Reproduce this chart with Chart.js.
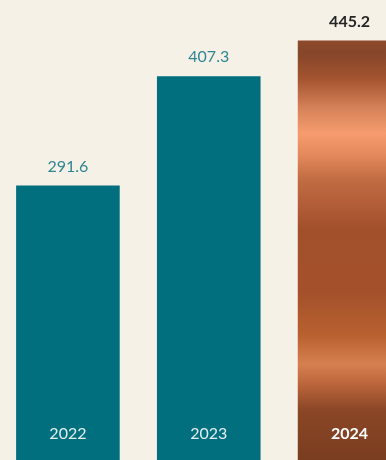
<!DOCTYPE html>
<html>
<head>
<meta charset="utf-8">
<script src="https://cdn.jsdelivr.net/npm/chart.js@4"></script>
<style>
  html, body { margin: 0; padding: 0; background: #f6f1e7; overflow: hidden; }
  .wrap { position: absolute; left: -5px; top: 0; width: 425px; height: 461px; }
</style>
</head>
<body>
<div class="wrap"><canvas id="revenueChart"></canvas></div>
<script>
const years = ['2022', '2023', '2024'];
const revenue = [291.6, 407.3, 445.2];
const valueLabels = ['291.6', '407.3', '445.2'];

const TEAL = '#016f7e';
const FONT = 'Lato, "Open Sans", sans-serif';

// copper sheen for the latest year
const copperStops = [
    [0, '#8e4a2c'], [0.03, '#85462a'], [0.09, '#a3532f'], [0.16, '#d58158'],
    [0.22, '#f69c6f'], [0.27, '#e58a5d'], [0.33, '#c26c43'], [0.45, '#a24f2c'],
    [0.6, '#a4512b'], [0.7, '#b9602f'], [0.77, '#d67f50'], [0.82, '#b9643a'],
    [0.88, '#8a4626'], [1, '#7a3d1f']
];

function barColor(ctx) {
    if (ctx.dataIndex !== revenue.length - 1) return TEAL;
    const chart = ctx.chart;
    if (!chart.chartArea) return '#a4512b';
    const y = chart.scales.y;
    const top = y.getPixelForValue(revenue[ctx.dataIndex]);
    const bottom = y.getPixelForValue(0);
    const g = chart.ctx.createLinearGradient(0, top, 0, bottom);
    copperStops.forEach(([p, c]) => g.addColorStop(p, c));
    return g;
}

const barLabels = {
    id: 'barLabels',
    afterDatasetsDraw(chart) {
        const ctx = chart.ctx;
        const meta = chart.getDatasetMeta(0);
        const last = revenue.length - 1;
        ctx.save();
        ctx.textAlign = 'center';
        ctx.textBaseline = 'alphabetic';
        meta.data.forEach((bar, i) => {
            const bold = i === last;
            ctx.font = (bold ? '700 ' : '400 ') + '16px ' + FONT;
            ctx.fillStyle = bold ? '#262626' : '#2f8591';
            ctx.fillText(valueLabels[i], bar.x, bar.y - (bold ? 13 : 14));
            ctx.fillStyle = bold ? '#ffffff' : '#e3eef0';
            ctx.fillText(years[i], bar.x, chart.chartArea.bottom - 22);
        });
        ctx.restore();
    }
};

new Chart(document.getElementById('revenueChart'), {
    type: 'bar',
    data: {
        labels: years,
        datasets: [{
            data: revenue,
            backgroundColor: barColor,
            borderWidth: 0,
            categoryPercentage: 1,
            barPercentage: 103 / 140
        }]
    },
    options: {
        responsive: true,
        maintainAspectRatio: false,
        animation: false,
        layout: { padding: { left: 2.5, right: 0, top: 0, bottom: 0 } },
        plugins: { legend: { display: false }, tooltip: { enabled: false } },
        scales: {
            x: { display: false },
            y: { display: false, min: 0, max: 488 }
        }
    },
    plugins: [barLabels]
});
</script>
</body>
</html>
